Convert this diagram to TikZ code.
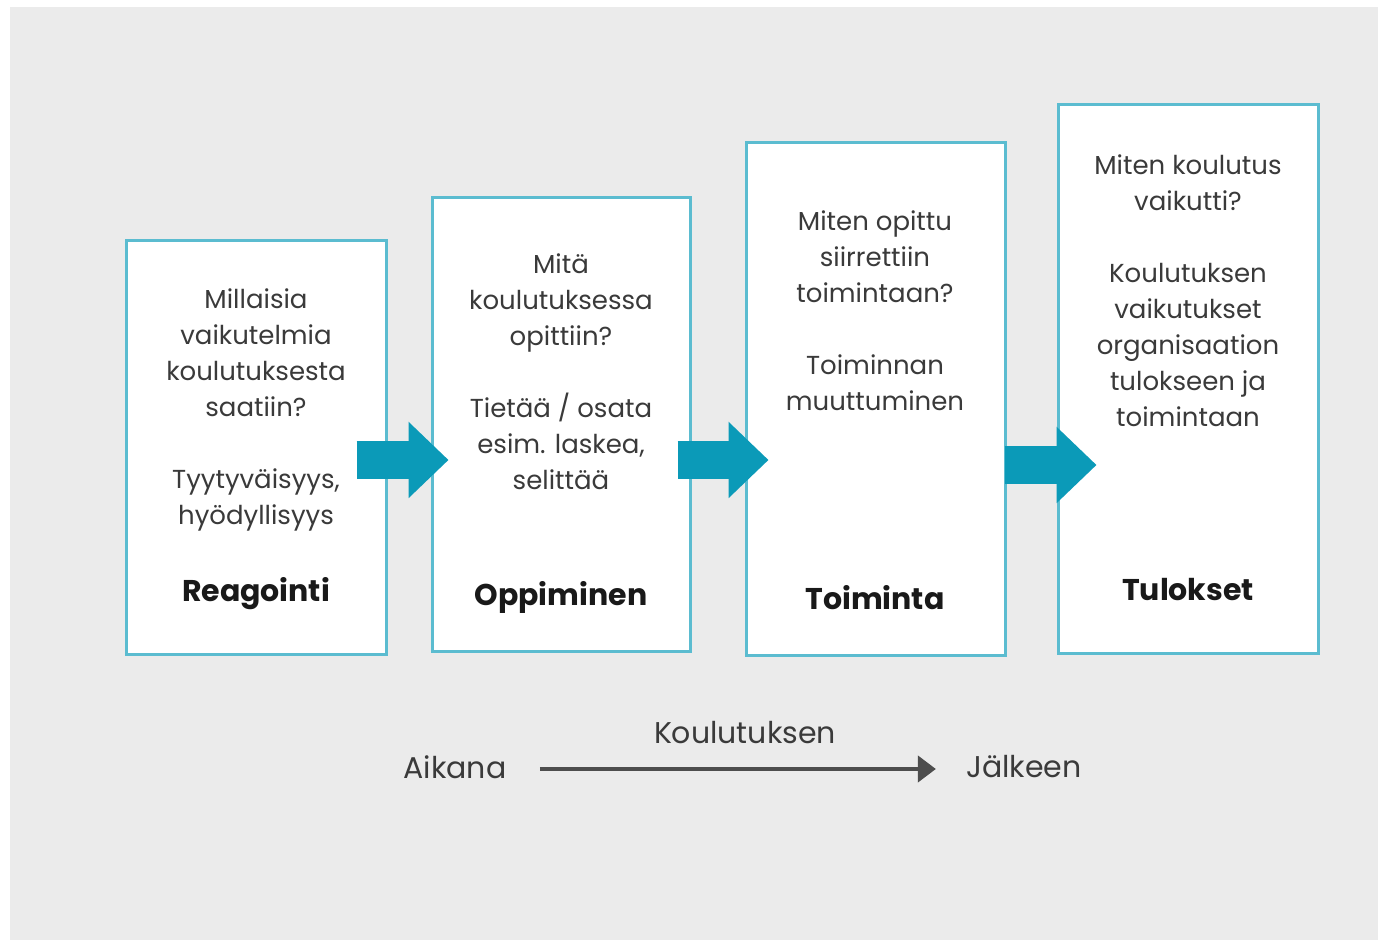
\documentclass[tikz,border=0pt]{standalone}
\usepackage{fontspec}
\setmainfont{Poppins}
\usetikzlibrary{arrows.meta,calc}
\definecolor{bggray}{HTML}{EBEBEB}
\definecolor{boxcyan}{HTML}{5BBCD0}
\definecolor{flowteal}{HTML}{0B9AB8}
\definecolor{textgray}{HTML}{3A3A3A}
\definecolor{linegray}{HTML}{4D4D4D}

\begin{document}
\begin{tikzpicture}[x=0.5pt,y=-0.5pt,
  levelbox/.style={draw=boxcyan, line width=1.5pt, fill=white, inner sep=0pt},
  question/.style={align=center, text=textgray, font=\fontsize{13}{18}\selectfont},
  levelname/.style={font=\fontsize{15}{18}\selectfont\bfseries, text=black!90},
  flowarrow/.style={draw=flowteal, line width=19pt, -{Triangle[length=20pt,width=37pt]}},
  timelabel/.style={font=\fontsize{15}{18}\selectfont, text=textgray, inner sep=0pt},
  timearrow/.style={draw=linegray, line width=2pt, -{Triangle[length=9pt,width=13pt]}}]
\useasboundingbox (0,0) rectangle (1378,940);
\fill[white] (0,0) rectangle (1378,940);
\fill[bggray] (10,7) rectangle (1378,940);

% the four levels
\node (reag) [levelbox, minimum width=130pt, minimum height=207pt] at (256,448) {};
\node (opp) [levelbox, minimum width=129pt, minimum height=227pt] at (561,425) {};
\node (toim) [levelbox, minimum width=129.5pt, minimum height=256.5pt] at (875.5,399.5) {};
\node (tul) [levelbox, minimum width=130pt, minimum height=274.5pt] at (1188,379.5) {};

\node (reagq) [question] at (256,410) {Millaisia\\vaikutelmia\\koulutuksesta\\saatiin?\\[18pt]Tyytyväisyys,\\hyödyllisyys};
\node (oppq) [question] at (561,372) {Mitä\\koulutuksessa\\opittiin?\\[18pt]Tietää / osata\\esim. laskea,\\selittää};
\node (toimq) [question] at (875,311) {Miten opittu\\siirrettiin\\toimintaan?\\[18pt]Toiminnan\\muuttuminen};
\node (tulq) [question] at (1188,290.5) {Miten koulutus\\vaikutti?\\[18pt]Koulutuksen\\vaikutukset\\organisaation\\tulokseen ja\\toimintaan};

\node (reagn) [levelname] at (256,594) {Reagointi};
\node (oppn) [levelname] at (561,597) {Oppiminen};
\node (toimn) [levelname] at (875,598) {Toiminta};
\node (tuln) [levelname] at (1188,590) {Tulokset};

% arrows between levels
\draw[flowarrow] ($(reag.east)+(-31,12)$) -- ($(opp.west)+(18,35)$);
\draw[flowarrow] ($(opp.east)+(-14,35)$) -- ($(toim.west)+(24,60.5)$);
\draw[flowarrow] ($(toim.east)+(-2,65.5)$) -- ($(tul.west)+(40,85.5)$);

% time line
\node (aik) [timelabel] at (455,767) {Aikana};
\node (kou) [timelabel] at (745,733) {Koulutuksen};
\node (jal) [timelabel] at (1024,767) {Jälkeen};
\draw[timearrow] ($(aik.east)+(33,2)$) -- ($(jal.west)+(-30,2)$);
\end{tikzpicture}
\end{document}
